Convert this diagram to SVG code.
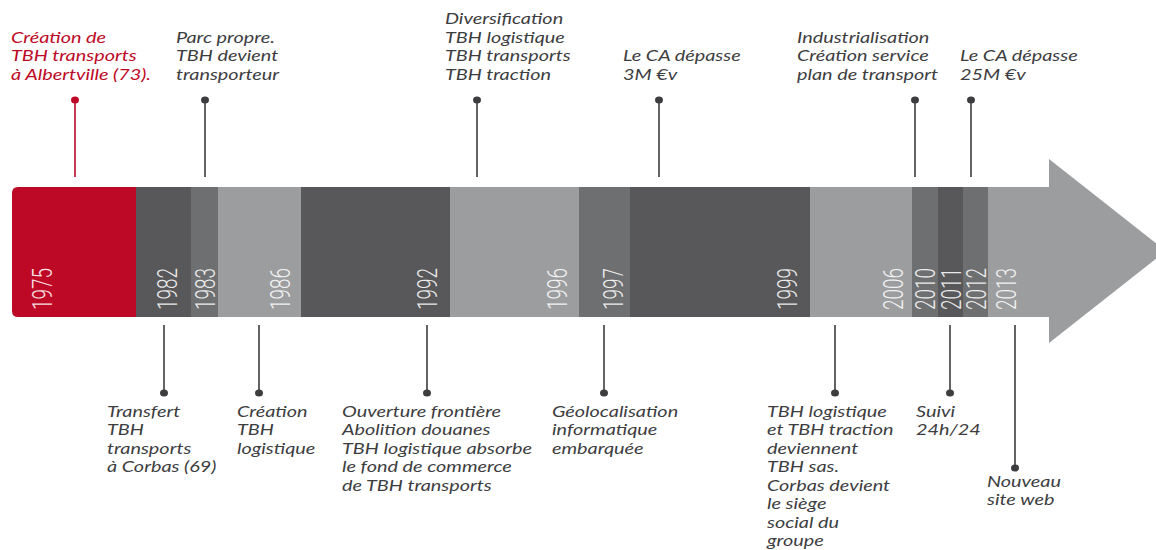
<svg xmlns="http://www.w3.org/2000/svg" width="1156" height="550" viewBox="0 0 1156 550">
<defs>
<style>
.lbl{font-family:Lato,"Noto Sans","Liberation Sans",sans-serif;font-style:italic;font-size:15.5px;fill:#3d3d3f}
.red{fill:#bd0926}
.yr{font-family:Roboto,Lato,"Liberation Sans",sans-serif;font-weight:300;font-size:28px;fill:#ffffff;fill-opacity:0.88}
.ln{stroke:#3d3d3f;stroke-width:1.6;fill:none}
.lnr{stroke:#bd0926;stroke-width:1.6;fill:none}
.dot{fill:#3d3d3f}
.dotr{fill:#bd0926}
.d{fill:#58585a}.m{fill:#6e6f71}.l{fill:#9c9d9f}
</style>
<clipPath id="barclip"><path d="M18,187 H1049 V317 H18 Q12,317 12,311 V193 Q12,187 18,187 Z"/></clipPath>
</defs>
<rect width="1156" height="550" fill="#ffffff"/>
<g id="timeline-bar">
<path class="l" d="M1040,187 H1049 V159 L1166,251 L1049,343 V317 H1040 Z"/>
<g clip-path="url(#barclip)">
<rect x="12" y="187" width="124" height="130" style="fill:#bd0926"/>
<rect class="d" x="136" y="187" width="55" height="130"/>
<rect class="m" x="191" y="187" width="27" height="130"/>
<rect class="l" x="218" y="187" width="83" height="130"/>
<rect class="d" x="301" y="187" width="149" height="130"/>
<rect class="l" x="450" y="187" width="129" height="130"/>
<rect class="m" x="579" y="187" width="51" height="130"/>
<rect class="d" x="630" y="187" width="180" height="130"/>
<rect class="l" x="810" y="187" width="102" height="130"/>
<rect class="m" x="912" y="187" width="26" height="130"/>
<rect class="d" x="938" y="187" width="25" height="130"/>
<rect class="m" x="963" y="187" width="25" height="130"/>
<rect class="l" x="988" y="187" width="62" height="130"/>
</g>
</g>
<g id="years">
<text class="yr" transform="translate(52,310) rotate(-90)" textLength="42" lengthAdjust="spacingAndGlyphs">1975</text>
<text class="yr" transform="translate(177,310) rotate(-90)" textLength="42" lengthAdjust="spacingAndGlyphs">1982</text>
<text class="yr" transform="translate(215,310) rotate(-90)" textLength="42" lengthAdjust="spacingAndGlyphs">1983</text>
<text class="yr" transform="translate(290,310) rotate(-90)" textLength="42" lengthAdjust="spacingAndGlyphs">1986</text>
<text class="yr" transform="translate(437,310) rotate(-90)" textLength="42" lengthAdjust="spacingAndGlyphs">1992</text>
<text class="yr" transform="translate(567,310) rotate(-90)" textLength="42" lengthAdjust="spacingAndGlyphs">1996</text>
<text class="yr" transform="translate(623,310) rotate(-90)" textLength="42" lengthAdjust="spacingAndGlyphs">1997</text>
<text class="yr" transform="translate(797,310) rotate(-90)" textLength="42" lengthAdjust="spacingAndGlyphs">1999</text>
<text class="yr" transform="translate(903,310) rotate(-90)" textLength="42" lengthAdjust="spacingAndGlyphs">2006</text>
<text class="yr" transform="translate(935,310) rotate(-90)" textLength="42" lengthAdjust="spacingAndGlyphs">2010</text>
<text class="yr" transform="translate(961,310) rotate(-90)" textLength="42" lengthAdjust="spacingAndGlyphs">2011</text>
<text class="yr" transform="translate(986,310) rotate(-90)" textLength="42" lengthAdjust="spacingAndGlyphs">2012</text>
<text class="yr" transform="translate(1016,310) rotate(-90)" textLength="42" lengthAdjust="spacingAndGlyphs">2013</text>
</g>
<g id="connectors">
<line class="lnr" x1="75" y1="100" x2="75" y2="177"/><ellipse class="dotr" cx="75" cy="100" rx="4" ry="3.5"/>
<line class="ln" x1="205" y1="100" x2="205" y2="177"/><ellipse class="dot" cx="205" cy="100" rx="4" ry="3.5"/>
<line class="ln" x1="477" y1="100" x2="477" y2="177"/><ellipse class="dot" cx="477" cy="100" rx="4" ry="3.5"/>
<line class="ln" x1="659" y1="100" x2="659" y2="177"/><ellipse class="dot" cx="659" cy="100" rx="4" ry="3.5"/>
<line class="ln" x1="915" y1="100" x2="915" y2="177"/><ellipse class="dot" cx="915" cy="100" rx="4" ry="3.5"/>
<line class="ln" x1="971" y1="100" x2="971" y2="177"/><ellipse class="dot" cx="971" cy="100" rx="4" ry="3.5"/>
<line class="ln" x1="164" y1="325" x2="164" y2="393"/><ellipse class="dot" cx="164" cy="393" rx="4" ry="3.5"/>
<line class="ln" x1="259" y1="325" x2="259" y2="393"/><ellipse class="dot" cx="259" cy="393" rx="4" ry="3.5"/>
<line class="ln" x1="427" y1="325" x2="427" y2="393"/><ellipse class="dot" cx="427" cy="393" rx="4" ry="3.5"/>
<line class="ln" x1="604" y1="325" x2="604" y2="393"/><ellipse class="dot" cx="604" cy="393" rx="4" ry="3.5"/>
<line class="ln" x1="835" y1="325" x2="835" y2="393"/><ellipse class="dot" cx="835" cy="393" rx="4" ry="3.5"/>
<line class="ln" x1="950" y1="325" x2="950" y2="393"/><ellipse class="dot" cx="950" cy="393" rx="4" ry="3.5"/>
<line class="ln" x1="1015" y1="325" x2="1015" y2="468"/><ellipse class="dot" cx="1015" cy="468" rx="4" ry="3.5"/>
</g>
<g id="event-1975" transform="translate(11,0) scale(1.28,1)">
<text class="lbl red"><tspan x="0" y="43">Création de</tspan><tspan x="0" y="61.5">TBH transports</tspan><tspan x="0" y="80">à Albertville (73).</tspan></text>
</g>
<g id="event-1983" transform="translate(176,0) scale(1.28,1)">
<text class="lbl"><tspan x="0" y="43">Parc propre.</tspan><tspan x="0" y="61.5">TBH devient</tspan><tspan x="0" y="80">transporteur</tspan></text>
</g>
<g id="event-1996" transform="translate(445,0) scale(1.28,1)">
<text class="lbl"><tspan x="0" y="24.5">Diversification</tspan><tspan x="0" y="43">TBH logistique</tspan><tspan x="0" y="61.5">TBH transports</tspan><tspan x="0" y="80">TBH traction</tspan></text>
</g>
<g id="event-1999a" transform="translate(623,0) scale(1.28,1)">
<text class="lbl"><tspan x="0" y="61.5">Le CA dépasse</tspan><tspan x="0" y="80">3M €v</tspan></text>
</g>
<g id="event-2010" transform="translate(797,0) scale(1.28,1)">
<text class="lbl"><tspan x="0" y="43">Industrialisation</tspan><tspan x="0" y="61.5">Création service</tspan><tspan x="0" y="80">plan de transport</tspan></text>
</g>
<g id="event-2012" transform="translate(960,0) scale(1.28,1)">
<text class="lbl"><tspan x="0" y="61.5">Le CA dépasse</tspan><tspan x="0" y="80">25M €v</tspan></text>
</g>
<g id="event-1982" transform="translate(107,0) scale(1.28,1)">
<text class="lbl"><tspan x="0" y="417">Transfert</tspan><tspan x="0" y="435.5">TBH</tspan><tspan x="0" y="454">transports</tspan><tspan x="0" y="472.5">à Corbas (69)</tspan></text>
</g>
<g id="event-1986" transform="translate(237,0) scale(1.28,1)">
<text class="lbl"><tspan x="0" y="417">Création</tspan><tspan x="0" y="435.5">TBH</tspan><tspan x="0" y="454">logistique</tspan></text>
</g>
<g id="event-1992" transform="translate(342,0) scale(1.28,1)">
<text class="lbl"><tspan x="0" y="417">Ouverture frontière</tspan><tspan x="0" y="435.5">Abolition douanes</tspan><tspan x="0" y="454">TBH logistique absorbe</tspan><tspan x="0" y="472.5">le fond de commerce</tspan><tspan x="0" y="491">de TBH transports</tspan></text>
</g>
<g id="event-1997" transform="translate(552,0) scale(1.28,1)">
<text class="lbl"><tspan x="0" y="417">Géolocalisation</tspan><tspan x="0" y="435.5">informatique</tspan><tspan x="0" y="454">embarquée</tspan></text>
</g>
<g id="event-2006" transform="translate(767,0) scale(1.28,1)">
<text class="lbl"><tspan x="0" y="417">TBH logistique</tspan><tspan x="0" y="435.5">et TBH traction</tspan><tspan x="0" y="454">deviennent</tspan><tspan x="0" y="472.5">TBH sas.</tspan><tspan x="0" y="491">Corbas devient</tspan><tspan x="0" y="509.5">le siège</tspan><tspan x="0" y="528">social du</tspan><tspan x="0" y="546.5">groupe</tspan></text>
</g>
<g id="event-2011" transform="translate(916,0) scale(1.28,1)">
<text class="lbl"><tspan x="0" y="417">Suivi</tspan><tspan x="0" y="435.5">24h/24</tspan></text>
</g>
<g id="event-2013" transform="translate(987,0) scale(1.28,1)">
<text class="lbl"><tspan x="0" y="487">Nouveau</tspan><tspan x="0" y="505.5">site web</tspan></text>
</g>
</svg>
